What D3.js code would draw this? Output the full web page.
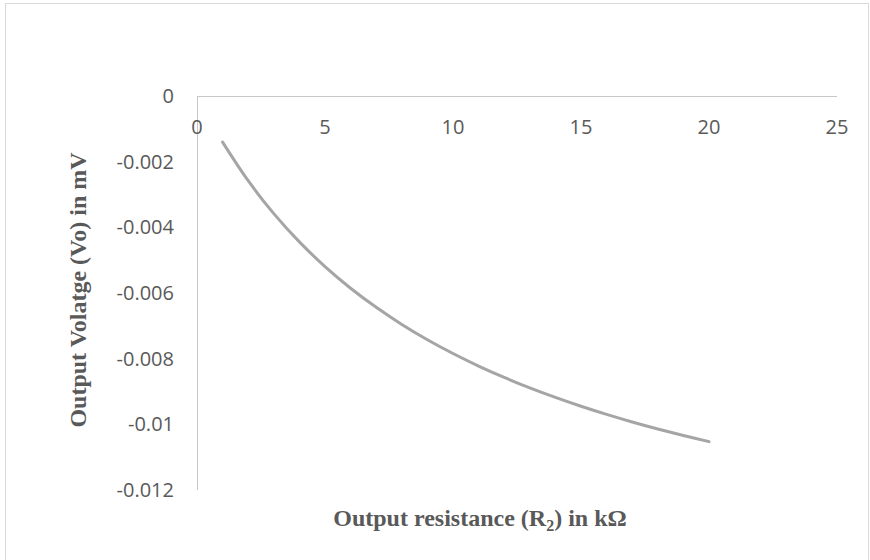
<!DOCTYPE html>
<html><head><meta charset="utf-8">
<script src="https://cdn.jsdelivr.net/npm/d3@7"></script>
<style>body{margin:0;background:#fff}svg{display:block}</style>
</head><body>
<svg id="c" width="870" height="560"></svg>
<script>
const resistance = [1,2,3,4,5,6,7,8,9,10,11,12,13,14,15,16,17,18,19,20];
const voltage = [-0.001404,-0.002581,-0.003582,-0.004444,-0.005195,-0.005854,-0.006437,-0.006957,-0.007423,-0.007843,-0.008224,-0.008571,-0.008889,-0.009180,-0.009449,-0.009697,-0.009927,-0.010141,-0.010340,-0.010526];
const xTicks = [0,5,10,15,20,25];
const yTicks = [0,-0.002,-0.004,-0.006,-0.008,-0.01,-0.012];
const yTickLabels = ["0","-0.002","-0.004","-0.006","-0.008","-0.01","-0.012"];

const svg = d3.select("#c");
svg.append("rect").attr("x",5.5).attr("y",3.5).attr("width",863).attr("height",600)
  .attr("fill","#fff").attr("stroke","#d9d9d9").attr("stroke-width",1);

const x = d3.scaleLinear().domain([0,25]).range([197,837]);
const y = d3.scaleLinear().domain([0,-0.012]).range([96,490]);

svg.append("line").attr("x1",x(0)).attr("x2",x(25)).attr("y1",y(0)+0.5).attr("y2",y(0)+0.5)
  .attr("stroke","#c8c8c8").attr("stroke-width",1);
svg.append("line").attr("x1",x(0)+0.5).attr("x2",x(0)+0.5).attr("y1",y(0)).attr("y2",y(-0.012))
  .attr("stroke","#c8c8c8").attr("stroke-width",1);

const font = "'Open Sans', 'Liberation Sans', sans-serif";
svg.selectAll(".xt").data(xTicks).enter().append("text")
  .attr("x",d=>x(d)).attr("y",y(0)+38).attr("text-anchor","middle")
  .attr("font-family",font).attr("font-size",20).attr("fill","#595959").text(d=>d);
svg.selectAll(".yt").data(yTicks).enter().append("text")
  .attr("x",174).attr("y",d=>y(d)+7).attr("text-anchor","end")
  .attr("font-family",font).attr("font-size",20).attr("fill","#595959")
  .text((d,i)=>yTickLabels[i]);

const data = resistance.map((r,i)=>[r,voltage[i]]);
svg.append("path").datum(data)
  .attr("d", d3.line().x(d=>x(d[0])).y(d=>y(d[1])).curve(d3.curveCatmullRom))
  .attr("fill","none").attr("stroke","#a5a5a5").attr("stroke-width",3).attr("stroke-linecap","round");

const serif = "'Liberation Serif','Times New Roman',serif";
const xt = svg.append("text").attr("x",480).attr("y",526).attr("text-anchor","middle")
  .attr("font-family",serif).attr("font-weight","bold")
  .attr("font-size",24).attr("fill","#595959");
xt.append("tspan").text("Output resistance (R");
xt.append("tspan").attr("font-size",16).attr("dy",5).text("2");
xt.append("tspan").attr("dy",-5).text(") in kΩ");

svg.append("text").attr("transform","translate(86,290) rotate(-90)").attr("text-anchor","middle")
  .attr("font-family",serif).attr("font-weight","bold")
  .attr("font-size",24).attr("fill","#595959").text("Output Volatge (Vo) in mV");
</script>
</body></html>
